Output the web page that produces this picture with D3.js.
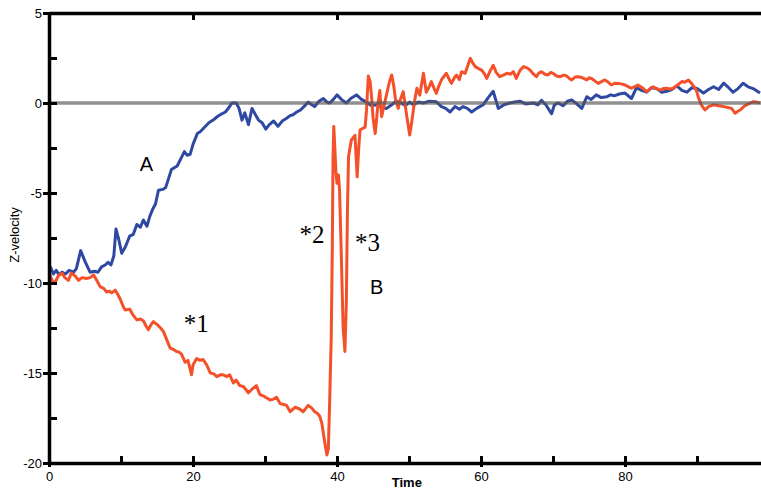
<!DOCTYPE html>
<html><head><meta charset="utf-8">
<script src="https://d3js.org/d3.v7.min.js"></script>
<style>body{margin:0;background:#fff}svg{display:block}text{font-family:"Liberation Sans",Arial,sans-serif}</style>
</head><body>
<script>
// Series A (blue)
const tA=[0.2,0.6,1.0,1.4,1.8,2.3,2.8,3.4,3.8,4.4,5.0,5.7,6.3,6.8,7.3,7.8,8.2,8.6,9.0,9.3,9.7,10.1,10.6,11.2,11.7,12.2,12.7,13.1,13.6,14.0,14.4,14.8,15.2,15.8,16.2,16.6,17.0,17.4,17.8,18.3,18.8,19.2,19.6,20.0,20.6,21.0,21.6,22.2,22.8,23.4,24.0,24.5,25.0,25.4,26.0,26.4,26.8,27.2,27.7,28.2,28.6,29.1,29.6,30.1,30.6,31.2,31.8,32.4,33.0,33.5,33.9,34.4,34.9,35.4,36.0,36.5,36.9,37.5,38.1,38.6,39.0,39.5,40.0,40.6,41.3,41.9,42.7,43.4,44.1,44.8,45.5,46.2,46.9,47.6,48.2,48.75,49.5,50.1,50.6,51.3,52.0,52.8,53.8,54.5,55.1,55.7,56.4,57.0,57.5,58.1,58.7,59.4,60.3,61.0,61.7,62.4,63.2,64.0,64.7,65.4,66.2,67.3,67.9,68.4,69.0,69.8,70.2,70.7,71.4,72.0,72.6,73.3,74.0,74.7,75.3,76.0,76.7,77.5,78.0,78.5,79.2,80.0,80.9,81.6,82.3,83.0,83.7,84.4,85.1,85.8,86.5,87.2,87.9,88.6,89.3,90.0,90.9,91.6,92.3,93.0,93.7,94.4,95.0,95.7,96.4,97.1,97.8,98.75];
const vA=[-9.1,-9.5,-9.3,-9.55,-9.4,-9.5,-9.3,-9.4,-9.2,-8.2,-8.8,-9.4,-9.35,-9.4,-9.1,-9.0,-8.85,-9.0,-8.5,-7.0,-7.6,-8.35,-8.0,-7.4,-7.3,-6.75,-6.9,-6.5,-6.85,-6.3,-5.9,-5.6,-4.85,-4.8,-4.7,-4.2,-3.7,-3.6,-3.5,-3.1,-2.7,-2.9,-2.85,-2.3,-1.7,-1.6,-1.35,-1.1,-0.95,-0.75,-0.6,-0.5,-0.25,0.0,0.0,-0.3,-0.95,-0.55,-1.2,-0.3,-0.6,-0.95,-1.1,-1.45,-1.2,-1.0,-1.3,-1.0,-0.85,-0.7,-0.65,-0.5,-0.4,-0.2,0.05,-0.1,-0.2,0.1,0.25,0.05,0.0,0.2,0.45,0.2,0.0,0.25,0.45,0.2,0.05,-0.15,-0.1,-0.25,-0.3,-0.1,0.1,0.05,-0.15,0.05,-0.1,0.05,0.0,0.1,0.07,-0.2,-0.3,-0.5,-0.2,-0.35,-0.2,-0.3,-0.5,-0.3,-0.1,0.3,0.65,-0.3,-0.1,0.0,0.05,0.1,-0.05,0.0,-0.1,0.15,-0.1,-0.6,-0.1,0.0,-0.15,0.1,0.17,-0.05,-0.3,0.35,0.2,0.45,0.3,0.35,0.45,0.4,0.5,0.55,0.25,0.85,0.7,0.6,0.85,0.8,0.6,0.65,0.75,0.95,0.7,0.6,0.85,0.8,0.55,0.75,0.9,0.75,1.1,0.85,0.6,0.8,1.1,0.9,0.8,0.55];
// Series B (red)
const tB=[0.1,0.5,0.8,1.3,1.8,2.2,2.7,3.1,3.6,4.1,4.6,5.2,5.7,6.2,6.7,7.1,7.6,8.0,8.4,8.7,9.2,9.5,9.9,10.3,10.6,11.2,11.7,12.2,12.7,13.1,13.5,13.8,14.2,14.5,15.0,15.5,15.9,16.4,16.8,17.3,17.7,18.1,18.4,18.9,19.3,19.8,20.0,20.5,21.0,21.4,21.9,22.4,22.9,23.3,23.8,24.2,24.7,25.1,25.6,26.0,26.5,27.0,27.7,28.2,28.8,29.3,29.9,30.7,31.2,31.6,32.1,32.6,33.0,33.5,34.2,34.8,35.3,35.7,36.0,36.5,36.9,37.3,37.6,37.9,38.1,38.4,38.6,38.8,39.0,39.2,39.35,39.45,39.55,39.7,39.85,40.0,40.2,40.35,40.6,40.85,41.1,41.3,41.45,41.6,41.8,42.0,42.3,42.5,42.8,43.0,43.2,43.6,43.9,44.1,44.35,44.6,44.8,45.0,45.3,45.5,45.7,45.95,46.2,46.5,46.9,47.3,47.6,47.9,48.1,48.5,48.8,49.2,49.5,49.7,50.1,50.4,50.6,50.9,51.1,51.5,52.0,52.4,52.8,53.1,53.5,53.8,54.1,54.5,54.9,55.2,55.6,55.9,56.3,56.6,57.0,57.3,57.8,58.1,58.5,58.9,59.2,59.7,60.1,60.5,60.8,61.3,61.7,62.1,62.6,63.1,63.6,64.1,64.5,64.9,65.4,65.9,66.4,66.8,67.3,67.7,68.0,68.4,68.9,69.3,69.7,70.0,70.5,71.0,71.5,71.9,72.3,72.6,73.1,73.5,74.1,74.7,75.0,75.4,75.9,76.3,76.8,77.2,77.7,78.1,78.6,79.1,79.6,80.0,80.5,80.9,81.3,81.8,82.4,83.0,83.5,83.9,84.4,84.9,85.3,85.8,86.2,86.7,87.3,87.9,88.3,88.8,89.25,89.6,89.9,90.2,90.6,91.1,91.6,92.3,93.0,93.7,94.3,94.8,95.3,95.7,96.0,96.5,96.9,97.4,97.8,98.3,98.75];
const vB=[-9.55,-9.9,-10.0,-9.6,-9.45,-9.7,-9.85,-9.45,-9.6,-9.85,-9.7,-9.75,-9.7,-9.55,-9.9,-10.2,-10.3,-10.5,-10.45,-10.55,-10.4,-10.6,-10.9,-11.3,-11.5,-11.45,-11.8,-12.05,-12.0,-12.1,-12.4,-12.6,-12.3,-12.15,-12.3,-12.5,-12.7,-13.2,-13.6,-13.7,-13.8,-13.85,-13.95,-14.4,-14.3,-15.1,-14.55,-14.2,-14.3,-14.25,-14.55,-15.0,-15.05,-15.2,-15.1,-15.1,-15.2,-15.1,-15.55,-15.4,-15.7,-15.75,-16.1,-15.9,-15.7,-16.2,-16.3,-16.5,-16.45,-16.35,-16.7,-16.75,-16.8,-17.15,-16.9,-17.0,-17.15,-16.95,-16.8,-16.95,-17.15,-17.25,-17.4,-17.8,-18.35,-19.1,-19.55,-19.2,-16.3,-13.0,-8.0,-3.0,-1.3,-2.5,-3.8,-4.46,-4.0,-4.8,-8.5,-12.5,-13.8,-11.0,-6.0,-3.0,-2.5,-2.05,-1.9,-1.8,-4.1,-2.6,-1.5,-1.4,-1.35,-0.4,1.5,1.2,0.35,-0.8,-1.7,-0.9,0.0,0.7,-0.76,-0.2,0.5,1.2,1.56,0.9,0.26,-0.3,0.2,0.63,-0.2,-0.76,-1.78,-1.0,-0.4,0.4,0.82,0.44,1.65,0.6,0.9,1.19,0.8,0.54,0.9,1.28,1.5,1.65,1.3,1.09,1.4,1.55,1.3,1.74,1.65,2.0,2.48,2.2,2.02,1.9,1.83,1.6,1.37,1.8,2.1,1.7,1.46,1.55,1.65,1.6,1.74,1.37,1.8,2.02,1.95,1.83,1.6,1.46,1.65,1.74,1.6,1.56,1.7,1.65,1.5,1.46,1.55,1.5,1.35,1.28,1.45,1.46,1.4,1.28,1.4,1.35,1.2,1.09,1.2,1.28,1.15,1.0,1.1,1.09,1.05,1.0,0.9,0.82,0.9,1.0,0.85,0.63,0.8,0.9,0.8,0.72,0.8,0.82,0.78,0.82,1.0,1.19,1.15,1.28,1.09,0.9,0.72,0.3,-0.1,-0.39,-0.2,-0.1,-0.15,-0.2,-0.25,-0.3,-0.57,-0.45,-0.39,-0.2,-0.1,0.0,0.07,0.05,0.0];
const xMinorTicks=[0,10,20,30,40,50,60,70,80,90];
const xLabelTicks=[0,20,40,60,80];
const yMinorTicks=[-20,-17.5,-15,-12.5,-10,-7.5,-5,-2.5,0,2.5,5];
const yLabelTicks=[-20,-15,-10,-5,0,5];
const annotations=[
  {text:"A",t:12.6,v:-3.8,serif:false,size:20},
  {text:"*1",t:18.7,v:-12.7,serif:true,size:25},
  {text:"*2",t:34.8,v:-7.78,serif:true,size:25},
  {text:"*3",t:42.5,v:-8.22,serif:true,size:25},
  {text:"B",t:44.6,v:-10.6,serif:false,size:20}
];
const W=761,H=489;
const x=d3.scaleLinear().domain([0,100]).range([49,769]);
const y=d3.scaleLinear().domain([-20,5]).range([463,13]);
const svg=d3.select("body").append("svg").attr("width",W).attr("height",H);

const line=d3.line().x(d=>x(d[0])).y(d=>y(d[1]));
const A=tA.map((t,i)=>[t,vA[i]]), B=tB.map((t,i)=>[t,vB[i]]);
svg.append("path").datum(A).attr("d",line).attr("fill","none").attr("stroke","#2f48a2").attr("stroke-width",3).attr("stroke-linejoin","round");
svg.append("path").datum(B).attr("d",line).attr("fill","none").attr("stroke","#f4512b").attr("stroke-width",3).attr("stroke-linejoin","round");

// zero line
svg.append("line").attr("x1",x(0)).attr("x2",W).attr("y1",y(0)).attr("y2",y(0)).attr("stroke","#555").attr("stroke-opacity",0.65).attr("stroke-width",3.5);

function style(g,lw){g.selectAll(".domain").attr("stroke","#000").attr("stroke-width",lw);g.selectAll(".tick line").attr("stroke","#000").attr("stroke-width",3);g.selectAll("text").attr("fill","#000").style("font-size","13px");}
// left axis
const gl=svg.append("g").attr("transform",`translate(${x(0)},0)`);
gl.call(d3.axisLeft(y).tickValues(yMinorTicks).tickSize(-8).tickSizeOuter(0).tickFormat("")).call(g=>style(g,3.5));
const gl2=svg.append("g").attr("transform",`translate(${x(0)},0)`);
gl2.call(d3.axisLeft(y).tickValues(yLabelTicks).tickSize(6).tickPadding(1).tickFormat(d=>String(d))).call(g=>style(g,0));
gl2.select(".domain").remove();
// bottom axis
const gb=svg.append("g").attr("transform",`translate(0,${y(-20)})`);
gb.call(d3.axisBottom(x).tickValues(xMinorTicks).tickSize(-7).tickSizeOuter(0).tickFormat("")).call(g=>style(g,3.5));
const gb2=svg.append("g").attr("transform",`translate(0,${y(-20)})`);
gb2.call(d3.axisBottom(x).tickValues(xLabelTicks).tickSize(4).tickPadding(5).tickFormat(d=>String(d))).call(g=>style(g,0));
gb2.select(".domain").remove();
// top axis
const gt=svg.append("g").attr("transform",`translate(0,${y(5)})`);
gt.call(d3.axisTop(x).tickValues([20,40,60,80]).tickSize(-7).tickSizeOuter(0).tickFormat("")).call(g=>style(g,3.5));

// axis titles
svg.append("text").attr("x",x(49.7)).attr("y",487).attr("text-anchor","middle").style("font-size","13px").style("font-weight","bold").text("Time");
svg.append("text").attr("transform",`translate(19,235) rotate(-90)`).attr("text-anchor","middle").style("font-size","13px").text("Z-velocity");

// annotations
svg.selectAll("text.ann").data(annotations).join("text").attr("class","ann")
  .attr("x",d=>x(d.t)).attr("y",d=>y(d.v))
  .style("font-family",d=>d.serif?"'Liberation Serif','Times New Roman',serif":"'Liberation Sans',Arial,sans-serif")
  .style("font-size",d=>d.size+"px").text(d=>d.text);
</script>
</body></html>
